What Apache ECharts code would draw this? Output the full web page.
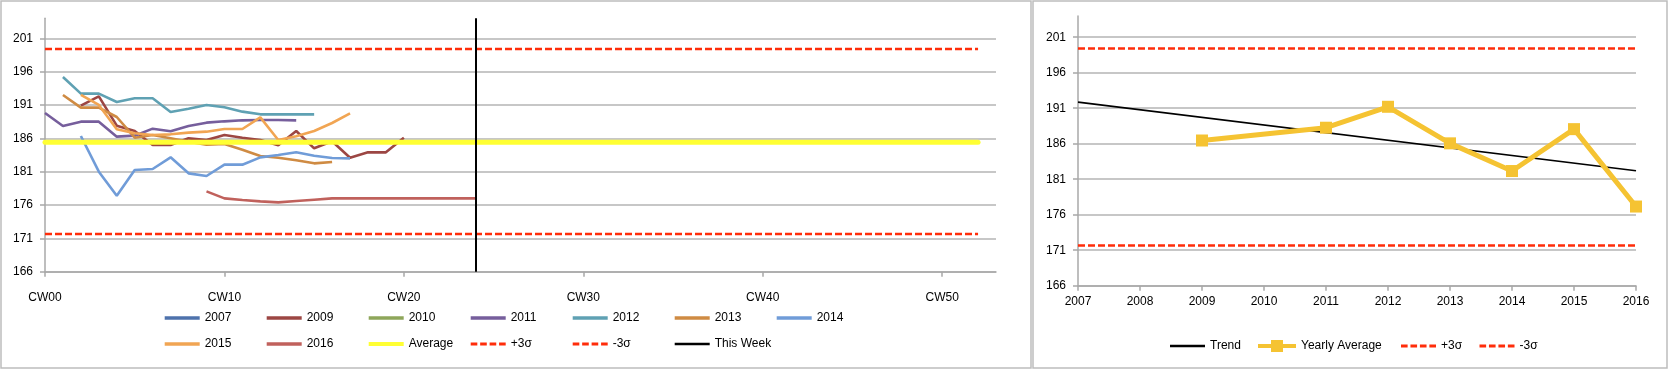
<!DOCTYPE html>
<html><head><meta charset="utf-8">
<script src="https://cdn.jsdelivr.net/npm/echarts@6/dist/echarts.min.js"></script>
<style>html,body{margin:0;padding:0;background:#fff}#c{width:1669px;height:372px}</style>
</head><body><div id="c"></div>
<script>
// ---- data ----
const weeks = []; for (let i = 0; i <= 53; i++) weeks.push('CW' + String(i).padStart(2, '0'));
const years = ['2007','2008','2009','2010','2011','2012','2013','2014','2015','2016'];
const yTicks = [166,171,176,181,186,191,196,201];

const s2007 = [];
const s2009 = [null,null,190.9,192.3,187.9,187.1,185.0,185.0,186.0,185.75,186.5,186.1,185.75,184.95,187.1,184.5,185.55,183.1,183.9,183.9,186.1];
const s2010 = [];
const s2011 = [189.8,187.85,188.5,188.5,186.25,186.4,187.45,187.05,187.85,188.35,188.55,188.7,188.75,188.75,188.7];
const s2012 = [null,195.2,192.7,192.7,191.45,192.0,192.0,189.95,190.45,191.0,190.65,190.0,189.6,189.6,189.6,189.6];
const s2013 = [null,192.5,190.6,190.6,189.2,186.1,186.5,186.0,185.5,185.05,185.15,184.3,183.35,183.1,182.7,182.25,182.45];
const s2014 = [null,null,186.35,181.0,177.4,181.25,181.4,183.15,180.75,180.35,182.05,182.05,183.15,183.5,183.9,183.4,183.05,183.0];
const s2015 = [null,null,192.5,191.0,187.35,186.75,186.5,186.6,186.85,187.0,187.4,187.4,189.15,185.75,186.3,187.1,188.3,189.75];
const s2016 = [null,null,null,null,null,null,null,null,null,178.05,177.0,176.75,176.55,176.4,176.6,176.8,177.0,177.0,177.0,177.0,177.0,177.0,177.0,177.0,177.0];

const averageValue = 185.4;
const plus3Sigma = 199.4;
const minus3Sigma = 171.65;
const lineStartWeek = 'CW00', lineEndWeek = 'CW52';
const thisWeek = 'CW24';

const trendStart = ['2007', 191.85], trendEnd = ['2016', 182.2];
const yearlyAverage = [['2009',186.45],['2011',188.25],['2012',191.2],['2013',186.05],['2014',182.15],['2015',188.05],['2016',177.15]];

// ---- styles ----
const FONT = 'Liberation Sans';
const GRID_C = '#B4B4B4', AXIS_C = '#A8A8A8', RED = '#FF2D0A';
const colors = {
  '2007':'#4E72AC','2009':'#9C4643','2010':'#8EA65A','2011':'#765E9C','2012':'#5FA1B3',
  '2013':'#CF8B43','2014':'#709CD8','2015':'#F1A553','2016':'#C0615C'
};
const ICON_DASH = 'path://M0,0h7v3h-7z M10,0h7v3h-7z M20,0h7v3h-7z M30,0h7v3h-7z';
const ICON_LINE_SQUARE = 'path://M0,5H13V1H25V5H38V9H25V13H13V9H0Z';

function yAxis(gi) {
  return {
    type:'value', gridIndex: gi, min:166, max:204, interval:5,
    axisLine:{show:true, lineStyle:{color:AXIS_C, width:1.5}},
    axisTick:{show:true, length:5, customValues: yTicks, lineStyle:{color:AXIS_C, width:1.5}},
    axisLabel:{customValues: yTicks, margin:12, color:'#000', fontSize:12, fontFamily:FONT},
    splitLine:{show:true, lineStyle:{color:GRID_C, width:1.5}}
  };
}

function yearSeries(name, data) {
  return {name, type:'line', xAxisIndex:0, yAxisIndex:0, data, showSymbol:false, symbol:'none',
    connectNulls:false, lineStyle:{width:2.6, color:colors[name]}, itemStyle:{color:colors[name]}};
}

const series = [
  yearSeries('2007', s2007), yearSeries('2009', s2009), yearSeries('2010', s2010),
  yearSeries('2011', s2011), yearSeries('2012', s2012), yearSeries('2013', s2013),
  yearSeries('2014', s2014), yearSeries('2015', s2015), yearSeries('2016', s2016),
  {name:'Average', type:'line', xAxisIndex:0, yAxisIndex:0, symbol:'none',
    data:[[lineStartWeek, averageValue],[lineEndWeek, averageValue]],
    lineStyle:{width:5, color:'#FFFF33', cap:'round'}, itemStyle:{color:'#FFFF33'}},
  {name:'+3σ', type:'line', xAxisIndex:0, yAxisIndex:0, symbol:'none',
    data:[[lineStartWeek, plus3Sigma],[lineEndWeek, plus3Sigma]],
    lineStyle:{width:2.5, color:RED, type:[7,3]}, itemStyle:{color:RED}},
  {name:'-3σ', type:'line', xAxisIndex:0, yAxisIndex:0, symbol:'none',
    data:[[lineStartWeek, minus3Sigma],[lineEndWeek, minus3Sigma]],
    lineStyle:{width:2.5, color:RED, type:[7,3]}, itemStyle:{color:RED}},
  {name:'This Week', type:'line', xAxisIndex:0, yAxisIndex:0, symbol:'none', data:[],
    lineStyle:{width:2, color:'#000'}, itemStyle:{color:'#000'},
    markLine:{silent:true, symbol:'none', label:{show:false},
      lineStyle:{color:'#000', width:2, type:'solid'}, data:[{xAxis: thisWeek}]}},

  {name:'Trend', type:'line', xAxisIndex:1, yAxisIndex:1, symbol:'none',
    data:[trendStart, trendEnd], lineStyle:{width:1.6, color:'#000'}, itemStyle:{color:'#000'}},
  {name:'Yearly Average', type:'line', xAxisIndex:1, yAxisIndex:1, symbol:'rect', symbolSize:12,
    showSymbol:true, data: yearlyAverage, connectNulls:true,
    lineStyle:{width:5, color:'#F5C332'}, itemStyle:{color:'#F5C332'}},
  {name:'+3σ', type:'line', xAxisIndex:1, yAxisIndex:1, symbol:'none',
    data:[['2007', plus3Sigma],['2016', plus3Sigma]],
    lineStyle:{width:2.5, color:RED, type:[7,3]}, itemStyle:{color:RED}},
  {name:'-3σ', type:'line', xAxisIndex:1, yAxisIndex:1, symbol:'none',
    data:[['2007', minus3Sigma],['2016', minus3Sigma]],
    lineStyle:{width:2.5, color:RED, type:[7,3]}, itemStyle:{color:RED}}
];

// legends placed like the reference
const leftLegendRows = [
  ['2007','2009','2010','2011','2012','2013','2014'],
  ['2015','2016','Average','+3σ','-3σ','This Week']
];
const legendTextStyle = {color:'#000', fontSize:12, fontFamily:FONT};
function iconFor(name) {
  if (name === '+3σ' || name === '-3σ') return {icon: ICON_DASH, h: 3};
  if (name === 'Yearly Average') return {icon: ICON_LINE_SQUARE, h: 13};
  if (name === 'Average') return {icon: 'rect', h: 4};
  if (name === 'Trend' || name === 'This Week') return {icon: 'rect', h: 2.5};
  return {icon: 'rect', h: 3.5};
}
const legends = [];
function addLegend(name, x, cy, w) {
  const ic = iconFor(name);
  legends.push({data:[{name, icon: ic.icon}], left: x, top: cy - 7, padding:0,
    itemWidth: w, itemHeight: ic.h, selectedMode:false, textStyle:legendTextStyle,
    itemStyle:{borderWidth:0}, lineStyle:{width:0}});
}
leftLegendRows.forEach((row, r) => {
  row.forEach((name, i) => addLegend(name, 164.7 + 102 * i, r === 0 ? 319 : 345, 35));
});
const rightLegend = [['Trend',1170],['Yearly Average',1258],['+3σ',1401],['-3σ',1479.5]];
rightLegend.forEach(([name, x]) => addLegend(name, x, 347, name === 'Yearly Average' ? 38 : 35));

const chart = echarts.init(document.getElementById('c'), null, {renderer:'canvas'});
chart.setOption({
  animation:false,
  backgroundColor:'#fff',
  textStyle:{fontFamily:FONT},
  graphic:[
    {type:'rect', shape:{x:1, y:1, width:1030, height:367}, style:{fill:'none', stroke:'#BDBDBD', lineWidth:1.5}, silent:true},
    {type:'rect', shape:{x:1033, y:1, width:634, height:367}, style:{fill:'none', stroke:'#BDBDBD', lineWidth:1.5}, silent:true}
  ],
  grid:[
    {left:45, top:18.3, width:951, height:253.4},
    {left:1078, top:15.9, width:558, height:269.8}
  ],
  xAxis:[
    {type:'category', gridIndex:0, data:weeks, boundaryGap:false,
      axisLine:{lineStyle:{color:AXIS_C, width:1.5}},
      axisTick:{show:true, interval:9, length:5, lineStyle:{color:AXIS_C, width:1.5}},
      axisLabel:{interval:9, margin:20, color:'#000', fontSize:12, fontFamily:FONT},
      splitLine:{show:false}},
    {type:'category', gridIndex:1, data:years, boundaryGap:false,
      axisLine:{lineStyle:{color:AXIS_C, width:1.5}},
      axisTick:{show:true, interval:0, length:5, lineStyle:{color:AXIS_C, width:1.5}},
      axisLabel:{interval:0, margin:10, color:'#000', fontSize:12, fontFamily:FONT},
      splitLine:{show:false}}
  ],
  yAxis:[yAxis(0), yAxis(1)],
  legend: legends,
  series
});
</script></body></html>
